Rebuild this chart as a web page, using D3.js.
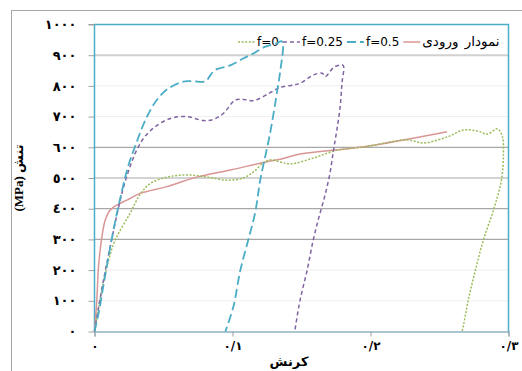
<!DOCTYPE html>
<html><head><meta charset="utf-8">
<script src="https://cdn.jsdelivr.net/npm/d3@7"></script>
<style>body{margin:0;background:#fff}svg{display:block}</style>
</head><body>
<svg id="c" width="522" height="371"></svg>
<script>
// ---- data (strain, stress MPa) ----
const seriesNames = ['f=0', 'f=0.25', 'f=0.5', 'نمودار ورودی'];
const f0 = [[0,0],[0.0027,68],[0.0055,140],[0.0092,215],[0.015,298],[0.0259,386],[0.0331,447],[0.0404,482],[0.0527,503],[0.0672,510],[0.0817,503],[0.0962,493],[0.1078,500],[0.115,519],[0.1223,549],[0.1274,559],[0.1346,552],[0.1419,546],[0.1586,565],[0.176,591],[0.1949,601],[0.2267,624],[0.2383,614],[0.2557,634],[0.2673,656],[0.2775,653],[0.2847,643],[0.292,660],[0.2956,634],[0.2963,581],[0.2949,493],[0.2891,396],[0.2818,298],[0.276,200],[0.2709,103],[0.2666,5],[0.2661,0]];
const f025 = [[0,0],[0.003,80],[0.0075,190],[0.012,290],[0.0165,385],[0.021,470],[0.026,540],[0.031,595],[0.0365,635],[0.044,667],[0.0549,694],[0.067,700],[0.079,687],[0.0863,691],[0.0935,711],[0.102,754],[0.108,756],[0.1153,752],[0.1274,778],[0.1346,795],[0.1443,803],[0.149,808],[0.1588,836],[0.165,841],[0.1672,830],[0.1733,860],[0.178,868],[0.1803,866],[0.1793,808],[0.178,732],[0.1756,656],[0.1732,591],[0.1706,515],[0.1668,440],[0.1625,370],[0.1585,298],[0.1541,200],[0.149,103],[0.1451,0]];
const f05 = [[0,0],[0.003,60],[0.0065,150],[0.011,265],[0.0155,370],[0.02,460],[0.0245,540],[0.03,610],[0.037,690],[0.0445,750],[0.053,790],[0.0643,814],[0.0716,815],[0.0805,815],[0.084,835],[0.0875,852],[0.0984,867],[0.108,890],[0.1153,906],[0.1238,928],[0.1322,939],[0.1354,946],[0.1366,936],[0.1347,852],[0.1325,786],[0.127,640],[0.1201,493],[0.1165,389],[0.1114,298],[0.1057,200],[0.1006,80],[0.0948,0]];
const inputCurve = [[0,0],[0.0017,103],[0.0029,211],[0.0054,309],[0.0078,363],[0.0114,396],[0.0162,412],[0.0235,428],[0.0331,450],[0.0525,472],[0.0718,500],[0.0984,526],[0.125,553],[0.1346,561],[0.149,578],[0.195,602],[0.2555,651]];
const yTickValues = [0,100,200,300,400,500,600,700,800,900,1000];
const yTickLabels = ['٠','١٠٠','٢٠٠','٣٠٠','٤٠٠','٥٠٠','٦٠٠','٧٠٠','٨٠٠','٩٠٠','١٠٠٠'];
const xTickValues = [0,0.1,0.2,0.3];
const xTickLabels = ['٠','٠/١','٠/٢','٠/٣'];
const xTitle = 'کرنش';
const yTitle = '(MPa) تنش';

// ---- chart ----
const svg = d3.select('#c');
const x = d3.scaleLinear().domain([0,0.3]).range([94.5,508.5]);
const y = d3.scaleLinear().domain([0,1000]).range([331.5,24.5]);

svg.append('rect').attr('x',11.5).attr('y',10.5).attr('width',520).attr('height',370)
  .attr('fill','none').attr('stroke','#a6a6a6');

function gridStyle(v){
  if (v>=300 && v<=600) return ['#a8a8a8',1.2];
  if (v===900) return ['#d0d0d0',2];
  return ['#efefef',1];
}
svg.append('g').selectAll('line').data(yTickValues.filter(v=>v>0 && v<1000)).join('line')
  .attr('x1',x(0)).attr('x2',x(0.3)).attr('y1',d=>y(d)).attr('y2',d=>y(d))
  .attr('stroke',d=>gridStyle(d)[0]).attr('stroke-width',d=>gridStyle(d)[1]);

const yAxis = svg.append('g').attr('transform',`translate(${x(0)},0)`)
  .call(d3.axisLeft(y).tickValues(yTickValues).tickFormat((d,i)=>yTickLabels[i]).tickSize(6).tickPadding(12));
yAxis.select('.domain').remove();
yAxis.selectAll('.tick line').attr('stroke','#a0a0a0');
yAxis.selectAll('.tick text').attr('font-family','DejaVu Sans').attr('font-weight','bold')
  .attr('font-size',13).attr('letter-spacing',3.5).attr('fill','#000');

const xAxis = svg.append('g').attr('transform',`translate(0,${y(0)})`)
  .call(d3.axisBottom(x).tickValues(xTickValues).tickFormat((d,i)=>xTickLabels[i]).tickSize(5).tickPadding(5));
xAxis.select('.domain').attr('stroke','#8fb4c2').attr('stroke-width',1.3);
xAxis.selectAll('.tick line').attr('stroke','#a0a0a0');
xAxis.selectAll('.tick text').attr('font-family','DejaVu Sans').attr('font-weight','bold')
  .attr('font-size',12).attr('letter-spacing',2).attr('fill','#000');

svg.append('path')
  .attr('d',`M${x(0)},${y(0)}V${y(1000)}H${x(0.3)}V${y(0)}`)
  .attr('fill','none').attr('stroke','#4bacc6').attr('stroke-width',1.5);
svg.append('line').attr('x1',88.5).attr('x2',x(0)).attr('y1',y(1000)).attr('y2',y(1000)).attr('stroke','#a0a0a0');

svg.append('text').attr('x',289).attr('y',366).attr('text-anchor','middle')
  .attr('font-family','DejaVu Sans').attr('font-weight','bold').attr('font-size',13).text(xTitle);
svg.append('text').attr('transform','translate(23,178) rotate(-90)').attr('text-anchor','middle')
  .attr('font-family','Liberation Serif, DejaVu Sans').attr('font-weight','bold').attr('font-size',13).text(yTitle);

const styles = [
  {data:f0, color:'#9bbb59', dash:'2,1.6', w:1.5},
  {data:f025, color:'#8064a2', dash:'4,3', w:1.5},
  {data:f05, color:'#4bacc6', dash:'9,4', w:1.8},
  {data:inputCurve, color:'#d99694', dash:null, w:1.5}
];

// legend
const lg = svg.append('g');
let lx = 238;
styles.forEach((s,i)=>{
  lg.append('line').attr('x1',lx).attr('x2',lx+17).attr('y1',42).attr('y2',42)
    .attr('stroke',s.color).attr('stroke-width',s.w).attr('stroke-dasharray',s.dash);
  const isFa = i===3;
  const t = lg.append('text').attr('x',lx+19).attr('y',46).attr('font-family','DejaVu Sans')
    .attr('font-size',isFa?13.5:12).attr('word-spacing',isFa?2:0).attr('fill','#000').text(seriesNames[i]);
  lx += 19 + t.node().getComputedTextLength() + 4;
});

const line = d3.line().x(d=>x(d[0])).y(d=>y(d[1])).curve(d3.curveCatmullRom.alpha(0.5));
[3,0,1,2].forEach(i=>{
  const s = styles[i];
  svg.append('path').attr('d',line(s.data)).attr('fill','none')
    .attr('stroke',s.color).attr('stroke-width',s.w).attr('stroke-dasharray',s.dash);
});
</script>
</body></html>
